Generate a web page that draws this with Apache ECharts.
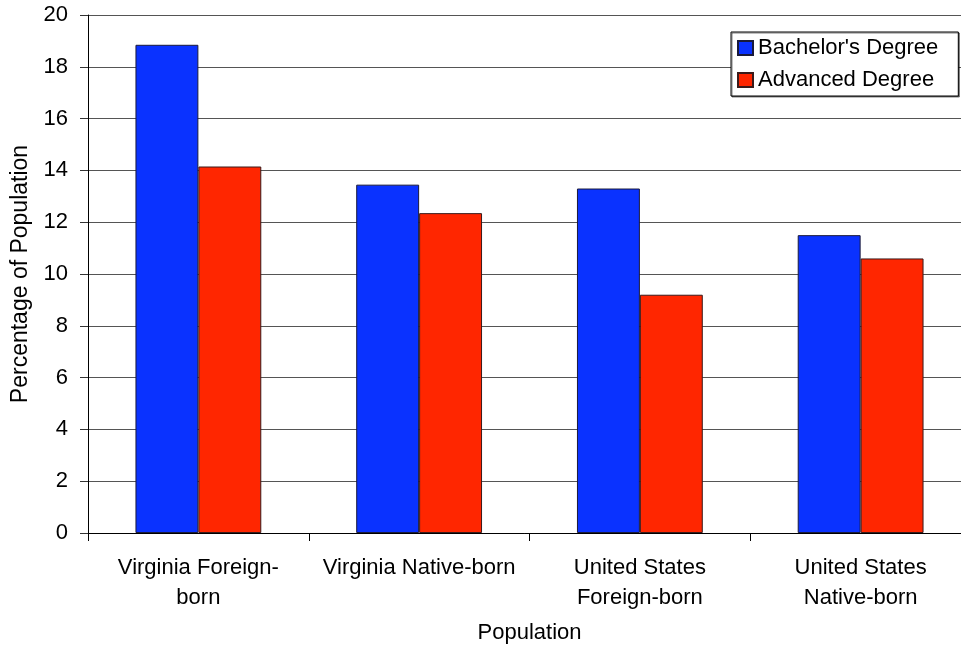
<!DOCTYPE html>
<html>
<head>
<meta charset="utf-8">
<script src="https://cdn.jsdelivr.net/npm/echarts@6/dist/echarts.min.js"></script>
<style>
  html, body { margin: 0; padding: 0; background: #fff; overflow: hidden; }
  #chart { width: 961px; height: 648px; }
</style>
</head>
<body>
<div id="chart"></div>
<script>
// Education attainment by population group
const categories = [
  'Virginia Foreign-\nborn',
  'Virginia Native-born',
  'United States\nForeign-born',
  'United States\nNative-born'
];
const bachelors = [18.85, 13.45, 13.3, 11.5];
const advanced = [14.15, 12.35, 9.2, 10.6];
const seriesNames = ["Bachelor's Degree", 'Advanced Degree'];

const font = 'Liberation Sans, Arial, sans-serif';
const chart = echarts.init(document.getElementById('chart'));
chart.setOption({
  animation: false,
  textStyle: { fontFamily: font },
  // plot area runs slightly past the right edge of the canvas
  grid: { left: 88, top: 15, width: 883, height: 518, containLabel: false, outerBoundsMode: 'none' },
  legend: {
    left: 731, top: 32,
    orient: 'vertical',
    itemWidth: 15, itemHeight: 14, itemGap: 10,
    padding: [5, 20, 5, 6],
    borderColor: '#000', borderWidth: 1,
    backgroundColor: '#fff',
    shadowColor: 'rgba(0,0,0,0.5)', shadowOffsetX: 1, shadowOffsetY: 1, shadowBlur: 0,
    icon: 'rect',
    textStyle: { fontSize: 22, lineHeight: 22, color: '#000', fontFamily: font },
    data: seriesNames
  },
  xAxis: {
    type: 'category',
    data: categories,
    name: 'Population',
    nameLocation: 'middle',
    nameGap: 89,
    nameTextStyle: { fontSize: 22, color: '#000', fontFamily: font },
    axisLine: { lineStyle: { color: '#000', width: 1 } },
    axisTick: { show: true, length: 8, lineStyle: { color: '#000' } },
    axisLabel: { fontSize: 22, color: '#000', margin: 20, lineHeight: 30, fontFamily: font, interval: 0 }
  },
  yAxis: {
    type: 'value',
    min: 0, max: 20, interval: 2,
    name: 'Percentage of Population',
    nameLocation: 'middle',
    nameGap: 54,
    nameTextStyle: { fontSize: 23, color: '#000', fontFamily: font },
    axisLine: { show: true, lineStyle: { color: '#000', width: 1 } },
    axisTick: { show: true, length: 8, lineStyle: { color: '#333' } },
    axisLabel: { fontSize: 22, color: '#000', margin: 20, fontFamily: font },
    splitLine: { show: true, lineStyle: { color: '#555', width: 1 } }
  },
  series: [
    {
      name: seriesNames[0], type: 'bar', data: bachelors,
      barGap: '0%', barCategoryGap: '43%',
      itemStyle: { color: '#0A32FF', borderColor: '#1a1a3a', borderWidth: 1 }
    },
    {
      name: seriesNames[1], type: 'bar', data: advanced,
      itemStyle: { color: '#FF2600', borderColor: '#3a1a1a', borderWidth: 1 }
    }
  ]
});
</script>
</body>
</html>
